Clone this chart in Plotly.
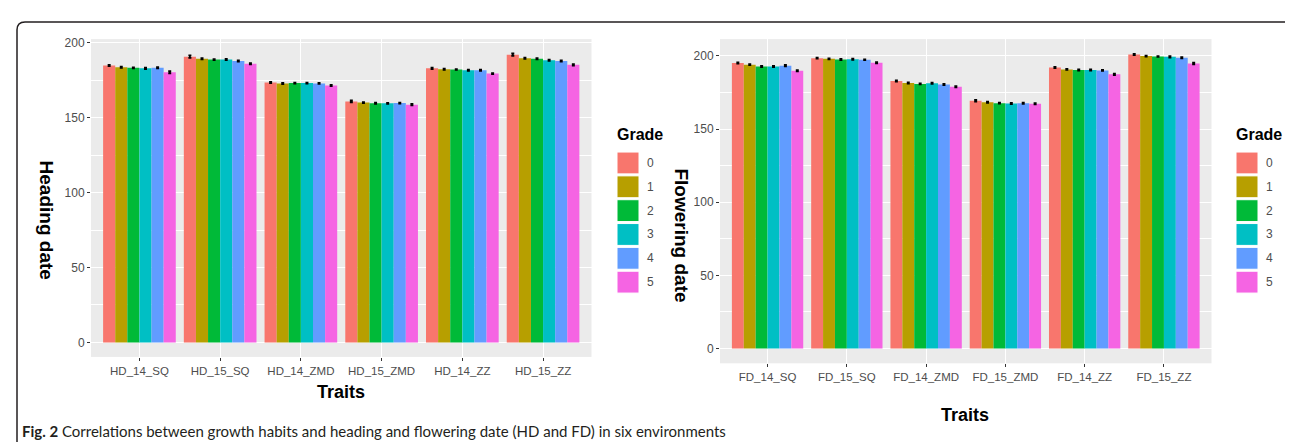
import plotly.graph_objects as go

W, H = 1293, 442

grades = ["0", "1", "2", "3", "4", "5"]
colors = ["#F8766D", "#B79F00", "#00BA38", "#00BFC4", "#619CFF", "#F564E3"]

hd_traits = ["HD_14_SQ", "HD_15_SQ", "HD_14_ZMD", "HD_15_ZMD", "HD_14_ZZ", "HD_15_ZZ"]
fd_traits = ["FD_14_SQ", "FD_15_SQ", "FD_14_ZMD", "FD_15_ZMD", "FD_14_ZZ", "FD_15_ZZ"]

# values per grade across traits
hd_values = {
    "0": [184.9, 190.9, 173.6, 161.0, 183.1, 192.2],
    "1": [183.8, 189.4, 173.0, 160.2, 182.5, 189.8],
    "2": [183.4, 188.9, 173.2, 159.7, 182.3, 189.4],
    "3": [183.1, 188.9, 173.2, 159.7, 181.8, 188.4],
    "4": [183.4, 188.0, 173.0, 159.9, 181.8, 188.0],
    "5": [180.5, 186.1, 171.6, 158.8, 179.6, 185.4],
}
hd_errors = {
    "0": [0.4, 0.9, 0.4, 0.6, 0.5, 0.8],
    "1": [0.4, 0.4, 0.4, 0.3, 0.4, 0.4],
    "2": [0.3, 0.3, 0.3, 0.4, 0.3, 0.4],
    "3": [0.5, 0.4, 0.3, 0.3, 0.4, 0.4],
    "4": [0.4, 0.4, 0.3, 0.3, 0.4, 0.4],
    "5": [0.7, 0.4, 0.4, 0.5, 0.3, 0.5],
}
fd_values = {
    "0": [195.1, 198.5, 182.9, 169.4, 192.1, 201.0],
    "1": [194.0, 198.0, 181.5, 168.4, 190.8, 199.9],
    "2": [192.8, 197.6, 180.9, 167.7, 190.4, 199.6],
    "3": [192.8, 197.8, 181.3, 167.5, 190.4, 199.4],
    "4": [193.3, 197.4, 180.4, 167.7, 190.1, 198.7],
    "5": [189.9, 195.3, 179.0, 167.3, 187.4, 194.8],
}
fd_errors = {
    "0": [0.4, 0.4, 0.4, 0.6, 0.4, 0.4],
    "1": [0.3, 0.3, 0.4, 0.4, 0.3, 0.3],
    "2": [0.4, 0.4, 0.3, 0.3, 0.4, 0.3],
    "3": [0.4, 0.4, 0.4, 0.4, 0.4, 0.5],
    "4": [0.5, 0.3, 0.4, 0.4, 0.3, 0.4],
    "5": [0.4, 0.4, 0.4, 0.4, 0.5, 0.6],
}

y_ticks = [0, 50, 100, 150, 200]


def px_x(p):
    return p / W


def px_y(p):
    return 1 - p / H


fig = go.Figure()

for g, c in zip(grades, colors):
    fig.add_trace(go.Bar(
        x=hd_traits, y=hd_values[g], name=g, marker=dict(color=c, line=dict(width=0)),
        error_y=dict(type="data", array=hd_errors[g], color="black", thickness=1.8, width=1.5),
        xaxis="x", yaxis="y", showlegend=False,
    ))
    fig.add_trace(go.Bar(
        x=fd_traits, y=fd_values[g], name=g, marker=dict(color=c, line=dict(width=0)),
        error_y=dict(type="data", array=fd_errors[g], color="black", thickness=1.8, width=1.5),
        xaxis="x2", yaxis="y2", showlegend=False,
    ))

tickfont = dict(family="Liberation Sans, Arial", size=12, color="#4D4D4D")
xtickfont = dict(family="Liberation Sans, Arial", size=11.5, color="#4D4D4D")
axis_common = dict(
    showgrid=True, gridcolor="white", gridwidth=1.1, zeroline=False,
    ticks="outside", ticklen=3, tickcolor="#333333", tickwidth=1,
    showline=False,
)

fig.update_layout(
    width=W, height=H, autosize=False,
    margin=dict(l=0, r=0, t=0, b=0),
    paper_bgcolor="white", plot_bgcolor="#EBEBEB",
    barmode="group", bargap=0.1, bargroupgap=0,
    showlegend=False,
    xaxis=dict(domain=[px_x(83), px_x(583.5)], anchor="y", range=[-0.6, 5.6],
               tickfont=xtickfont, **axis_common),
    yaxis=dict(domain=[px_y(348.3), px_y(28.3)], anchor="x", range=[-9.7, 202.6],
               tickvals=y_ticks, tickfont=tickfont,
               minor=dict(dtick=25, tick0=0, showgrid=True, gridcolor="white", gridwidth=0.5, ticks=""),
               **axis_common),
    xaxis2=dict(domain=[px_x(712), px_x(1203.5)], anchor="y2", range=[-0.6, 5.6],
                tickfont=xtickfont, **axis_common),
    yaxis2=dict(domain=[px_y(354.7), px_y(28.3)], anchor="x2", range=[-10.1, 211.5],
                tickvals=y_ticks, tickfont=tickfont,
                minor=dict(dtick=25, tick0=0, showgrid=True, gridcolor="white", gridwidth=0.5, ticks=""),
                **axis_common),
)

annotations = []
shapes = []
title_font = dict(family="Liberation Sans, Arial", size=18, color="black")
ytitle_font = dict(family="Liberation Sans, Arial", size=19, color="black")
legend_title_font = dict(family="Liberation Sans, Arial", size=16, color="black")

# Axis titles
annotations.append(dict(text="<b>Traits</b>", x=px_x(333), y=px_y(384), xref="paper", yref="paper",
                        showarrow=False, font=title_font, xanchor="center", yanchor="middle"))
annotations.append(dict(text="<b>Traits</b>", x=px_x(957), y=px_y(407), xref="paper", yref="paper",
                        showarrow=False, font=title_font, xanchor="center", yanchor="middle"))
annotations.append(dict(text="<b>Heading date</b>", x=px_x(38), y=px_y(210), xref="paper", yref="paper",
                        showarrow=False, font=ytitle_font, textangle=90, xanchor="center", yanchor="middle"))
annotations.append(dict(text="<b>Flowering date</b>", x=px_x(674), y=px_y(226), xref="paper", yref="paper",
                        showarrow=False, font=ytitle_font, textangle=90, xanchor="center", yanchor="middle"))

# Legends (ggplot style keys)
for lx, ly in [(607, 124), (1226, 124)]:
    annotations.append(dict(text="<b>Grade</b>", x=px_x(lx), y=px_y(ly), xref="paper", yref="paper",
                            showarrow=False, font=legend_title_font, xanchor="left", yanchor="middle"))
    for i, (g, c) in enumerate(zip(grades, colors)):
        top = ly + 18 + i * 24
        shapes.append(dict(type="rect", xref="paper", yref="paper",
                           x0=px_x(lx + 2), x1=px_x(lx + 24), y0=px_y(top + 22), y1=px_y(top),
                           fillcolor=c, line=dict(color="white", width=1)))
        annotations.append(dict(text=g, x=px_x(lx + 30), y=px_y(top + 11), xref="paper", yref="paper",
                                showarrow=False, font=tickfont, xanchor="left", yanchor="middle"))

# Caption
annotations.append(dict(
    text="<b>Fig. 2</b> Correlations between growth habits and heading and flowering date (HD and FD) in six environments",
    x=px_x(12), y=px_y(423), xref="paper", yref="paper", showarrow=False,
    font=dict(family="Lato, Open Sans", size=15, color="#231F20"),
    xanchor="left", yanchor="middle"))

# Card border with rounded top corners
r = 8
x0, x1, yt, yb = 9, 1291, 11, 460
path = (f"M {px_x(x0)},{px_y(yb)} L {px_x(x0)},{px_y(yt + r)} "
        f"Q {px_x(x0)},{px_y(yt)} {px_x(x0 + r)},{px_y(yt)} "
        f"L {px_x(x1 - r)},{px_y(yt)} Q {px_x(x1)},{px_y(yt)} {px_x(x1)},{px_y(yt + r)} "
        f"L {px_x(x1)},{px_y(yb)}")
shapes.append(dict(type="path", xref="paper", yref="paper", path=path,
                   line=dict(color="#231F20", width=1.5)))

fig.update_layout(annotations=annotations, shapes=shapes)

fig.write_html("out.html")
